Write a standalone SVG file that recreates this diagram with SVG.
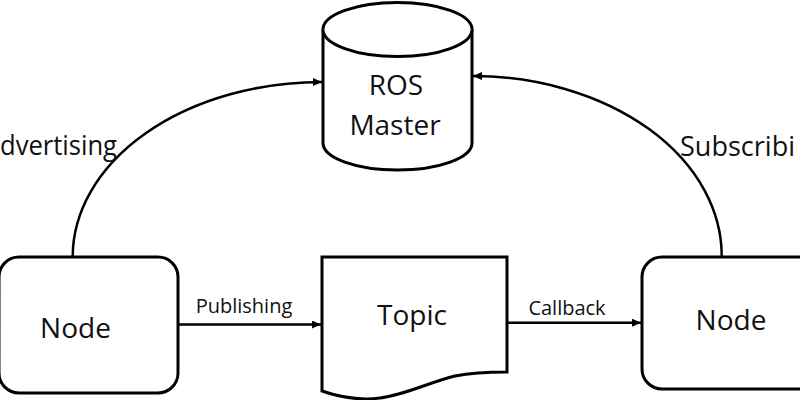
<svg xmlns="http://www.w3.org/2000/svg" width="800" height="400" viewBox="0 0 800 400">
<defs>
<style>
.shape{fill:#fff;stroke:#000;stroke-width:3}
.conn{fill:none;stroke:#000;stroke-width:2.5}
.big{font-family:"Open Sans","Liberation Sans",sans-serif;font-size:28px;fill:#111;text-anchor:middle}
.side{font-family:"Open Sans","Liberation Sans",sans-serif;font-size:27px;fill:#111}
.small{font-family:"Open Sans","Liberation Sans",sans-serif;font-size:20px;fill:#111;text-anchor:middle}
</style>
<marker id="arr" markerUnits="userSpaceOnUse" markerWidth="10" markerHeight="8" refX="9" refY="4" orient="auto">
<path d="M0,0 L9,4 L0,8 z" fill="#000"/>
</marker>
</defs>
<rect width="800" height="400" fill="#fff"/>
<g id="connectors">
<path class="conn" d="M72.7,257 A249.3,175 0 0 1 322,82" marker-end="url(#arr)"/>
<path class="conn" d="M721.7,257 A249.7,180 0 0 0 473,76" marker-end="url(#arr)"/>
<path class="conn" d="M178,324.5 L321,324.5" marker-end="url(#arr)"/>
<path class="conn" d="M507,322.7 L641,322.7" marker-end="url(#arr)"/>
<text class="small" x="244" y="313">Publishing</text>
<text class="small" x="567" y="315">Callback</text>
<text class="side" x="0" y="155" textLength="117" lengthAdjust="spacingAndGlyphs">dvertising</text>
<text class="side" x="680" y="156" textLength="115" lengthAdjust="spacingAndGlyphs">Subscribi</text>
</g>
<g id="ros-master">
<path class="shape" d="M323,29.5 L323,143 A74.5,27 0 0 0 472,143 L472,29.5 A74.5,27 0 0 0 323,29.5 Z"/>
<path class="shape" d="M323,29.5 A74.5,27 0 0 0 472,29.5" fill="none"/>
<text class="big" x="396" y="95">ROS</text>
<text class="big" x="395" y="135">Master</text>
</g>
<g id="node-left">
<rect class="shape" x="-1" y="257" width="179" height="136" rx="20" ry="20"/>
<text class="big" x="75.5" y="338">Node</text>
</g>
<g id="topic">
<path class="shape" d="M322,257 L507,257 L507,372 C495,372 475,372 455,376 C430,382 405,395 380,398 C365,400 345,399 322,391 Z"/>
<text class="big" x="412" y="325">Topic</text>
</g>
<g id="node-right">
<rect class="shape" x="642" y="257" width="190" height="132" rx="20" ry="20"/>
<text class="big" x="731" y="330">Node</text>
</g>
</svg>
